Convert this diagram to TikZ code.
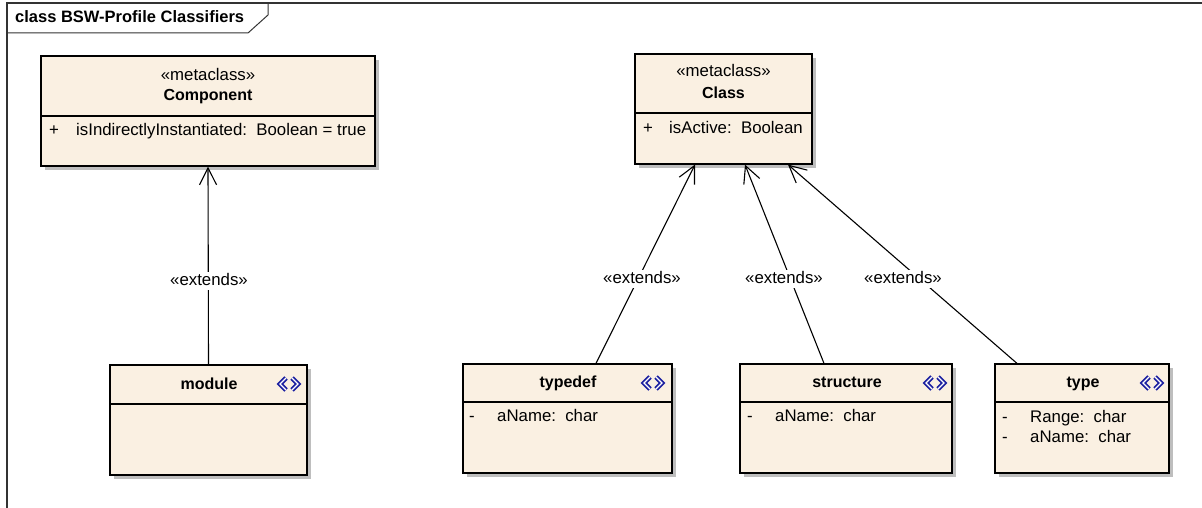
\documentclass[tikz,border=0pt]{standalone}
\usepackage{fontspec}
\setmainfont{Liberation Sans}
\usetikzlibrary{arrows.meta,shadows}
\definecolor{boxfill}{RGB}{250,240,226}
\definecolor{iconblue}{RGB}{28,32,160}
\definecolor{shadowgray}{RGB}{190,190,190}
\tikzset{
  umlbox/.style={draw=black, line width=1.2pt, fill=boxfill, inner sep=0pt,
    drop shadow={shadow xshift=4pt, shadow yshift=-4pt, fill=shadowgray, opacity=1}},
  sep/.style={draw=black, line width=1.1pt},
  txt/.style={font=\fontsize{16.8}{19}\selectfont, inner sep=0pt, text height=12pt, text depth=3pt},
  bold/.style={font=\fontsize{16}{19}\selectfont\bfseries, inner sep=0pt, text height=12pt, text depth=3pt},
  attr/.style={txt, anchor=west},
  lbl/.style={txt, fill=white, inner sep=1.5pt},
  ext/.style={draw=black, line width=1.1pt, -{Straight Barb[length=17pt,width=17pt,line width=1.1pt]}},
  frameline/.style={draw=black!80, line width=1.3pt},
  stereoicon/.pic={
    \draw[iconblue, line width=1.8pt, double=white, double distance=1.3pt, line join=miter]
      (-3,-6) -- (-9,0) -- (-3,6);
    \draw[iconblue, line width=1.8pt, double=white, double distance=1.3pt, line join=miter]
      (3,-6) -- (9,0) -- (3,6);
  }
}
\begin{document}
\begin{tikzpicture}[x=1pt,y=-1pt]
\useasboundingbox (0,0) rectangle (1202,508);
% frame
\draw[frameline] (7,520) -- (7,3) -- (1215,3);
\draw[frameline, line width=1pt] (7,33) -- (248,33) -- (268,15) -- (268,3);
\node[bold, font=\fontsize{16.5}{19}\selectfont\bfseries, anchor=west] (title) at (15,18) {class BSW-Profile Classifiers};

% boxes
\node[umlbox, minimum width=334pt, minimum height=110pt] (comp) at (208,111) {};
\draw[sep] (comp.west |- 0,116) -- (comp.east |- 0,116);
\node[txt] (compst) at (208,76) {«metaclass»};
\node[bold] (compname) at (208,96) {Component};
\node[txt] (compplus) at (54,131) {+};
\node[attr] (compattr) at (76,131) {isIndirectlyInstantiated:\ \ Boolean = true};

\node[umlbox, minimum width=177pt, minimum height=110pt] (cls) at (723.5,109) {};
\draw[sep] (cls.west |- 0,113) -- (cls.east |- 0,113);
\node[txt] (clsst) at (723.5,72) {«metaclass»};
\node[bold] (clsname) at (723.5,94) {Class};
\node[txt] (clsplus) at (648,129) {+};
\node[attr] (clsattr) at (669,129) {isActive:\ \ Boolean};

\node[umlbox, minimum width=197pt, minimum height=110pt] (mod) at (208.5,420) {};
\draw[sep] (mod.west |- 0,404) -- (mod.east |- 0,404);
\node[bold] (modname) at (209,385) {module};
\pic at (289,384) {stereoicon};

\node[umlbox, minimum width=209pt, minimum height=109pt] (tdef) at (567.5,418.5) {};
\draw[sep] (tdef.west |- 0,402) -- (tdef.east |- 0,402);
\node[bold] (tdefname) at (568,383) {typedef};
\pic at (653,383) {stereoicon};
\node[txt] (tdefminus) at (472,417) {-};
\node[attr] (tdefattr) at (497,417) {aName:\ \ char};

\node[umlbox, minimum width=212pt, minimum height=109pt] (struct) at (846,418.5) {};
\draw[sep] (struct.west |- 0,402) -- (struct.east |- 0,402);
\node[bold] (structname) at (847,383) {structure};
\pic at (935,383) {stereoicon};
\node[txt] (structminus) at (750,417) {-};
\node[attr] (structattr) at (775,417) {aName:\ \ char};

\node[umlbox, minimum width=174pt, minimum height=109pt] (typ) at (1082,418.5) {};
\draw[sep] (typ.west |- 0,402) -- (typ.east |- 0,402);
\node[bold] (typname) at (1083,383) {type};
\pic at (1152,383) {stereoicon};
\node[txt] (typminus1) at (1005,418) {-};
\node[attr] (typattr1) at (1030,418) {Range:\ \ char};
\node[txt] (typminus2) at (1005,438) {-};
\node[attr] (typattr2) at (1030,438) {aName:\ \ char};

% connectors
\draw[ext] (mod.north) -- (comp.south);
\draw[ext] ([xshift=28.5pt]tdef.north) -- ([xshift=-28.5pt]cls.south);
\draw[ext] ([xshift=-22pt]struct.north) -- ([xshift=21.5pt]cls.south);
\draw[ext] ([xshift=-65pt]typ.north) -- ([xshift=64.5pt]cls.south);

% labels
\node[lbl] (l1) at (209,281) {«extends»};
\node[lbl] (l2) at (642,279) {«extends»};
\node[lbl] (l3) at (784,279) {«extends»};
\node[lbl] (l4) at (903,279) {«extends»};
\end{tikzpicture}
\end{document}
